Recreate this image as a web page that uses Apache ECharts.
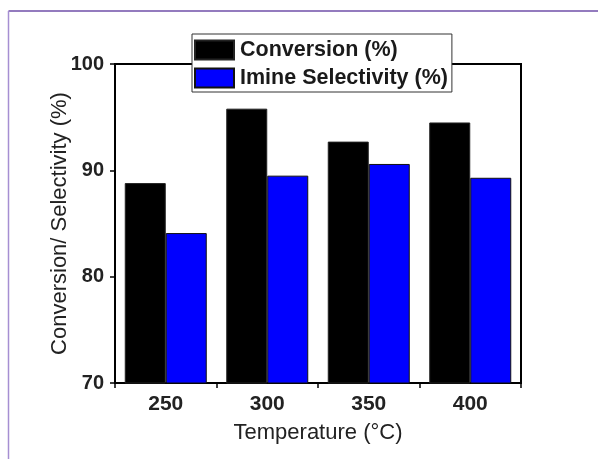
<!DOCTYPE html>
<html>
<head>
<meta charset="utf-8">
<script src="https://cdn.jsdelivr.net/npm/echarts@6/dist/echarts.min.js"></script>
<style>
  html, body { margin: 0; padding: 0; background: #ffffff; }
  #chart { width: 598px; height: 459px; }
</style>
</head>
<body>
<div id="chart"></div>
<script>
// Reaction temperature categories (°C)
const temperatures = ['250', '300', '350', '400'];
// Conversion (%) at each temperature
const conversion = [88.8, 95.8, 92.7, 94.5];
// Imine selectivity (%) at each temperature
const selectivity = [84.1, 89.5, 90.6, 89.3];
// Y-axis range and step
const yMin = 70, yMax = 100, yStep = 10;

const chart = echarts.init(document.getElementById('chart'), null, { renderer: 'canvas' });

const fontFamily = 'Liberation Sans, Arial, sans-serif';

chart.setOption({
  animation: false,
  backgroundColor: '#ffffff',
  graphic: [
    // page frame lines
    { type: 'line', shape: { x1: 8.5, y1: 11, x2: 598, y2: 11 },
      style: { stroke: '#6f4fa9', lineWidth: 1.5 }, z: 100 },
    { type: 'line', shape: { x1: 8.5, y1: 11, x2: 8.5, y2: 459 },
      style: { stroke: '#a68fd2', lineWidth: 1.5 }, z: 100 }
  ],
  grid: {
    left: 115, right: 77, top: 64, bottom: 76,
    show: true, borderColor: '#000', borderWidth: 2,
    backgroundColor: 'transparent'
  },
  legend: {
    orient: 'vertical',
    left: 192, top: 34,
    padding: [5, 4, 3, 2],
    itemWidth: 39, itemHeight: 19,
    itemGap: 6,
    backgroundColor: '#ffffff',
    borderColor: '#333', borderWidth: 1,
    textStyle: { fontFamily, fontSize: 21.5, lineHeight: 22, fontWeight: 'bold', color: '#1a1a1a', padding: [0, 0, 0, 1] },
    data: [
      { name: 'Conversion (%)', icon: 'rect' },
      { name: 'Imine Selectivity (%)', icon: 'rect' }
    ]
  },
  xAxis: {
    type: 'category',
    data: temperatures,
    name: 'Temperature (°C)',
    nameLocation: 'middle',
    nameGap: 39,
    nameMoveOverlap: false,
    nameTextStyle: { fontFamily, fontSize: 22, color: '#222' },
    axisLine: { lineStyle: { color: '#000', width: 2 } },
    axisTick: { show: true, length: 5, lineStyle: { color: '#000', width: 1.5 } },
    axisLabel: { fontFamily, fontSize: 21, fontWeight: 'bold', color: '#222', margin: 11 }
  },
  yAxis: {
    type: 'value',
    min: yMin, max: yMax, interval: yStep,
    name: 'Conversion/ Selectivity (%)',
    nameLocation: 'middle',
    nameGap: 44,
    nameMoveOverlap: false,
    nameRotate: 90,
    nameTextStyle: { fontFamily, fontSize: 22, color: '#222' },
    splitLine: { show: false },
    axisLine: { show: true, lineStyle: { color: '#000', width: 2 } },
    axisTick: { show: true, length: 5, lineStyle: { color: '#000', width: 1.5 } },
    axisLabel: { fontFamily, fontSize: 20, fontWeight: 'bold', color: '#222', margin: 11 }
  },
  series: [
    {
      name: 'Conversion (%)',
      type: 'bar',
      data: conversion,
      barWidth: 41,
      barGap: '0%',
      itemStyle: { color: '#000000', borderColor: '#222', borderWidth: 1 }
    },
    {
      name: 'Imine Selectivity (%)',
      type: 'bar',
      data: selectivity,
      barWidth: 41,
      barGap: '0%',
      itemStyle: { color: '#0000ff', borderColor: '#111', borderWidth: 1 }
    }
  ]
});
</script>
</body>
</html>
